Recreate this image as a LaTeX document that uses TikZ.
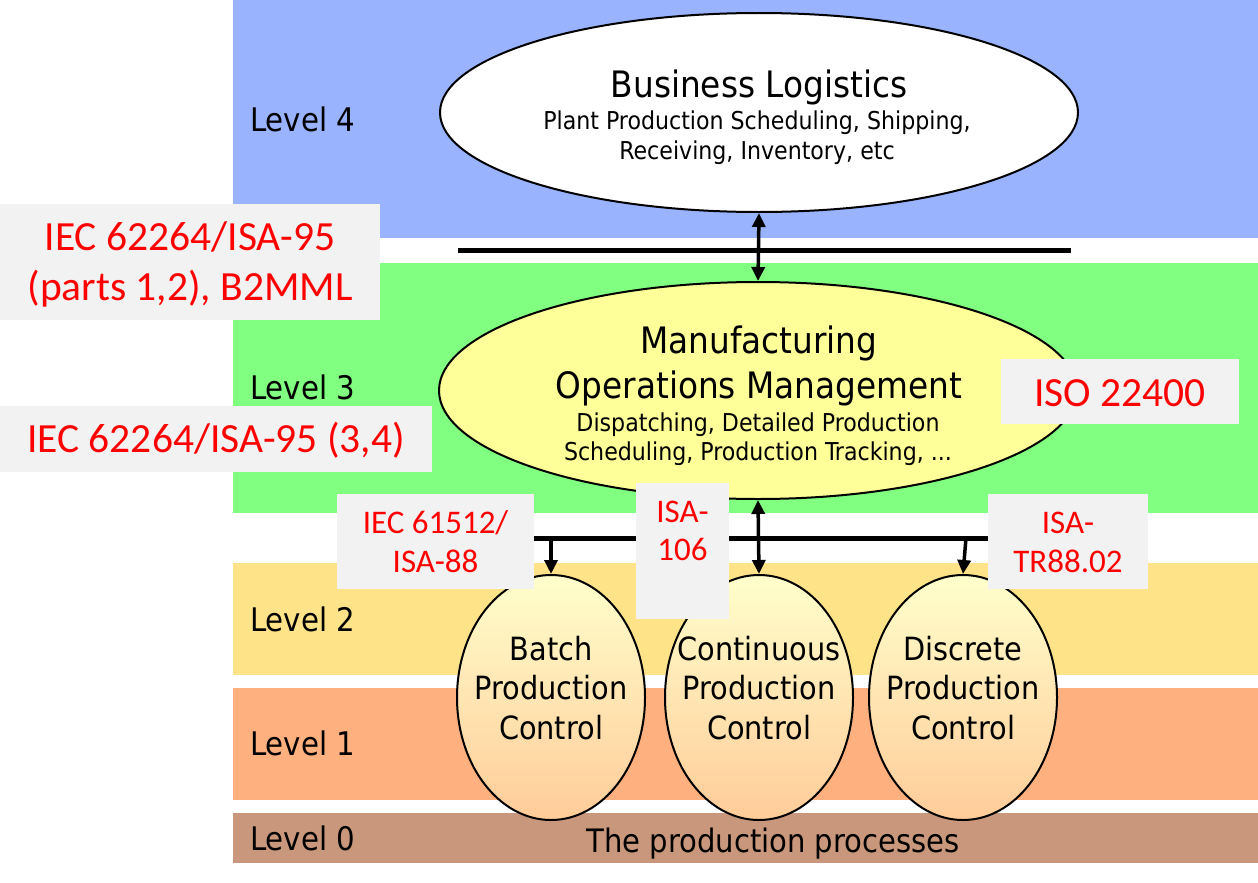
\documentclass[tikz,border=0pt]{standalone}
\usepackage{fontspec}
\setmainfont{DejaVu Sans Condensed}
\newfontfamily\redfont{Carlito}
\usetikzlibrary{shapes.geometric,arrows.meta}
\definecolor{bandblue}{HTML}{99B3FF}
\definecolor{bandgreen}{HTML}{80FF80}
\definecolor{bandyellow}{HTML}{FFE388}
\definecolor{bandorange}{HTML}{FFB07F}
\definecolor{bandbrown}{HTML}{C9977C}
\definecolor{boxgray}{HTML}{F2F2F2}
\definecolor{momyellow}{HTML}{FFFF99}
\definecolor{ctltop}{HTML}{FFFFCC}
\definecolor{ctlbot}{HTML}{FFCC99}
\definecolor{stdred}{HTML}{FF0000}
\tikzset{
  band/.style={fill=#1, draw=none},
  txt/.style={anchor=base, inner sep=0},
  lvl/.style={anchor=base west, font=\fontsize{32.5}{38}\selectfont, inner sep=0},
  bigell/.style={ellipse, draw=black, line width=2pt, inner sep=0},
  ctlell/.style={ellipse, draw=black, line width=2pt, inner sep=0,
     minimum width=188pt, minimum height=245pt, top color=ctltop, bottom color=ctlbot},
  stdbox/.style={fill=boxgray, draw=none, inner sep=0},
  bigred/.style={txt, text=stdred, font=\redfont\fontsize{41.5}{48}\selectfont},
  smallred/.style={txt, text=stdred, font=\redfont\fontsize{33}{40}\selectfont},
  titlef/.style={txt, font=\fontsize{36.4}{44}\selectfont},
  subf/.style={txt, font=\fontsize{24.6}{30}\selectfont},
  ctlf/.style={txt, font=\fontsize{32}{38}\selectfont},
  bus/.style={line width=5pt},
  arr/.style={line width=3.5pt, -{Triangle[width=13pt,length=14pt]}},
  darr/.style={line width=3.5pt, {Triangle[width=13pt,length=14pt]}-{Triangle[width=13pt,length=14pt]}},
}
\begin{document}
\begin{tikzpicture}[x=1pt,y=-1pt]
\useasboundingbox (0,0) rectangle (1258,883);
\fill[white] (0,0) rectangle (1258,883);
% bands
\fill[band=bandblue] (233,0) rectangle (1258,238);
\fill[band=bandgreen] (233,263) rectangle (1258,513);
\fill[band=bandyellow] (233,563) rectangle (1258,675);
\fill[band=bandorange] (233,688) rectangle (1258,800);
\fill[band=bandbrown] (233,813) rectangle (1258,863);
% level labels
\node[lvl] (l4) at (250,131) {Level 4};
\node[lvl] (l3) at (250,399) {Level 3};
\node[lvl] (l2) at (250,631) {Level 2};
\node[lvl] (l1) at (250,755) {Level 1};
\node[lvl] (l0) at (250,850) {Level 0};
% buses
\coordinate (ubusL) at (458,250);
\coordinate (ubusR) at (1071,250);
\draw[bus] (ubusL) -- (ubusR);
\coordinate (lbusL) at (460,538);
\coordinate (lbusR) at (1071,538);
\draw[bus] (lbusL) -- (lbusR);
% business logistics
\node[bigell, fill=white, minimum width=638pt, minimum height=199pt] (bl) at (759,112.5) {};
\node[titlef] (blt) at (759,97) {Business Logistics};
\node[subf] (bls1) at (757,129) {Plant Production Scheduling, Shipping,};
\node[subf] (bls2) at (757,159) {Receiving, Inventory, etc};
% manufacturing operations management
\node[bigell, fill=momyellow, minimum width=638pt, minimum height=217pt] (mom) at (758,390.5) {};
\node[titlef] (momt1) at (759,353) {Manufacturing};
\node[titlef] (momt2) at (759,398) {Operations Management};
\node[subf] (moms1) at (758,431) {Dispatching, Detailed Production};
\node[subf] (moms2) at (758,460) {Scheduling, Production Tracking, ...};
% control ellipses
\node[ctlell] (batch) at (551,697.5) {};
\node[ctlell] (cont) at (759,697.5) {};
\node[ctlell] (disc) at (963,697.5) {};
\node[ctlf] (bt1) at (551,660) {Batch};
\node[ctlf] (bt2) at (551,699) {Production};
\node[ctlf] (bt3) at (551,739) {Control};
\node[ctlf] (ct1) at (759,660) {Continuous};
\node[ctlf] (ct2) at (759,699) {Production};
\node[ctlf] (ct3) at (759,739) {Control};
\node[ctlf] (dt1) at (963,660) {Discrete};
\node[ctlf] (dt2) at (963,699) {Production};
\node[ctlf] (dt3) at (963,739) {Control};
% arrows
\draw[darr] (bl.south) -- (mom.north);
\coordinate (b1) at (551,538);
\coordinate (b3) at (966,538);
\draw[arr] (b1) -- (batch.north);
\draw[darr] (mom.south) -- (cont.north);
\draw[arr] (b3) -- (disc.north);
% production processes
\node[txt, font=\fontsize{32.3}{38}\selectfont] (pp) at (773,852) {The production processes};
% standard boxes
\node[stdbox, minimum width=380pt, minimum height=116pt] (s1) at (190,262) {};
\node[bigred] (s1a) at (190,250) {IEC 62264/ISA-95};
\node[bigred] (s1b) at (190,300) {(parts 1,2), B2MML};
\node[stdbox, minimum width=432pt, minimum height=66pt] (s2) at (216,439) {};
\node[bigred] (s2a) at (216,452) {IEC 62264/ISA-95 (3,4)};
\node[stdbox, minimum width=238pt, minimum height=65pt] (s3) at (1120,391.5) {};
\node[bigred] (s3a) at (1120,406) {ISO 22400};
\node[stdbox, minimum width=197pt, minimum height=95pt] (s4) at (435.5,541.5) {};
\node[smallred] (s4a) at (435.5,533) {IEC 61512/};
\node[smallred] (s4b) at (435.5,572) {ISA-88};
\node[stdbox, minimum width=93pt, minimum height=136pt] (s5) at (682.5,551) {};
\node[smallred] (s5a) at (682.5,522) {ISA-};
\node[smallred] (s5b) at (682.5,560) {106};
\node[stdbox, minimum width=160pt, minimum height=95pt] (s6) at (1068,541.5) {};
\node[smallred] (s6a) at (1068,533) {ISA-};
\node[smallred] (s6b) at (1068,572) {TR88.02};
\end{tikzpicture}
\end{document}
